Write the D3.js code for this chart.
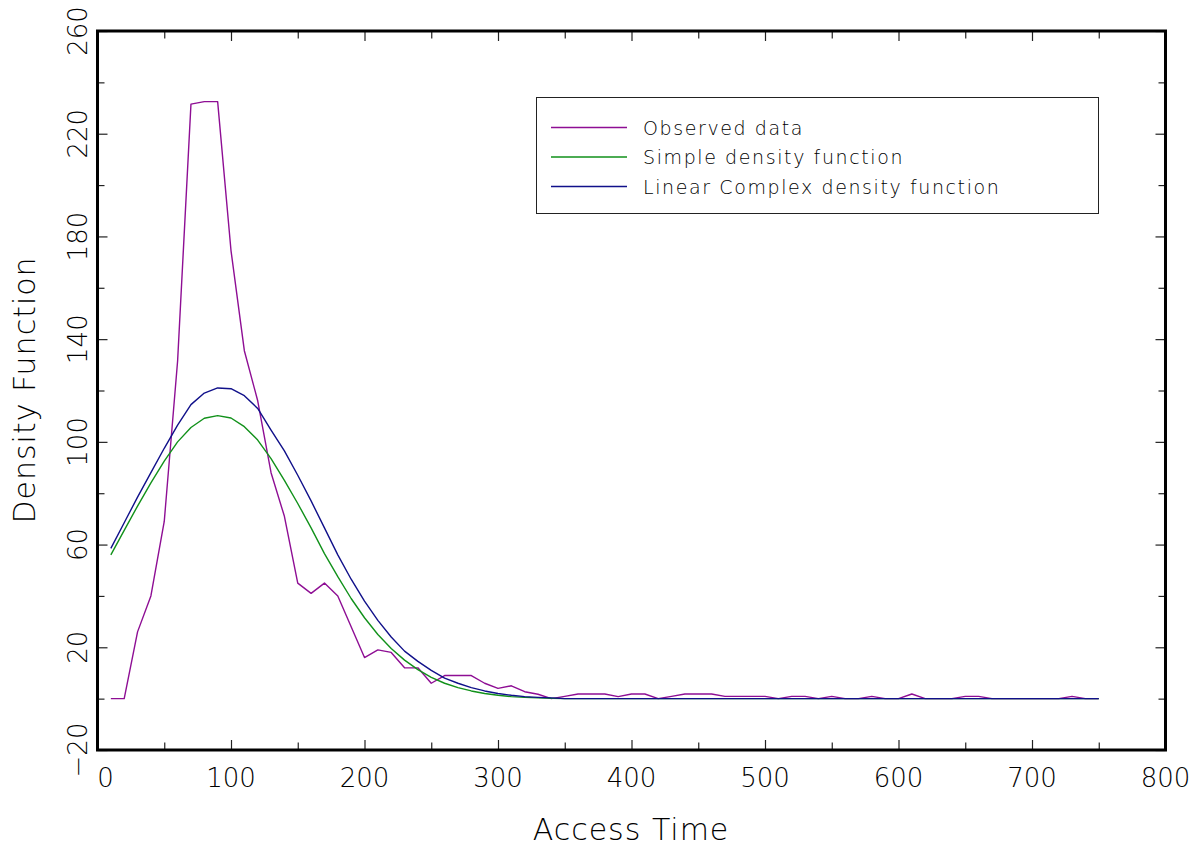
<!DOCTYPE html>
<html>
<head>
<meta charset="utf-8">
<script src="https://cdn.jsdelivr.net/npm/d3@7"></script>
<style>
  body { margin: 0; background: #fff; }
  svg { display: block; }
  text { font-family: "DejaVu Sans", sans-serif; font-weight: 300; fill: #000; }
</style>
</head>
<body>
<svg id="chart" width="1200" height="846"></svg>
<script>
// access time samples, every 10 units
const accessTime = d3.range(10, 751, 10);

const observed = [
  0, 0, 26, 40, 69, 131.5, 231.5, 232.5, 232.5, 174.5,
  135.5, 116, 88, 71, 45, 41, 45, 40, 28, 16,
  19, 18, 12, 12, 6, 9, 9, 9, 6, 4,
  5, 2.7, 1.7, 0, 0.9, 1.8, 1.8, 1.8, 0.8, 1.8,
  1.8, 0, 0.9, 1.8, 1.8, 1.8, 0.9, 0.9, 0.9, 0.9,
  0, 0.9, 0.9, 0, 0.9, 0, 0, 0.9, 0, 0,
  1.8, 0, 0, 0, 0.9, 0.9, 0, 0, 0, 0,
  0, 0, 0.9, 0, 0
];

const simple = [
  56, 65.5, 75, 84, 92.5, 100, 105.6, 109.2, 110.2, 109.3,
  105.9, 100.7, 93.5, 85, 76, 66.5, 56.5, 47.5, 39, 31.5,
  25, 19.5, 15, 11.3, 8.3, 6, 4.3, 3, 2, 1.3,
  0.8, 0.5, 0.3, 0.1, 0, 0, 0, 0, 0, 0,
  0, 0, 0, 0, 0, 0, 0, 0, 0, 0,
  0, 0, 0, 0, 0, 0, 0, 0, 0, 0,
  0, 0, 0, 0, 0, 0, 0, 0, 0, 0,
  0, 0, 0, 0, 0
];

const linearComplex = [
  58.5, 68.5, 78.5, 88, 97.5, 106.5, 114.5, 119, 121, 120.7,
  118, 113, 104.6, 96.5, 87, 77, 66.5, 56, 46.5, 38,
  30.5, 24, 18.5, 14.5, 11, 8, 6, 4.3, 3, 2,
  1.3, 0.8, 0.5, 0.3, 0, 0, 0, 0, 0, 0,
  0, 0, 0, 0, 0, 0, 0, 0, 0, 0,
  0, 0, 0, 0, 0, 0, 0, 0, 0, 0,
  0, 0, 0, 0, 0, 0, 0, 0, 0, 0,
  0, 0, 0, 0, 0
];

const xMajor = [0, 100, 200, 300, 400, 500, 600, 700, 800];
const xMinor = [50, 150, 250, 350, 450, 550, 650, 750];
const yMajor = [-20, 20, 60, 100, 140, 180, 220, 260];
const yMinor = [0, 40, 80, 120, 160, 200, 240];

const legendNames = ["Observed data", "Simple density function", "Linear Complex density function"];
const colors = ["#8e0e94", "#11911a", "#10108a"];

const plotL = 97.5, plotR = 1165.5, plotT = 31, plotB = 750;

const svg = d3.select("#chart");

const x = d3.scaleLinear().domain([0, 800]).range([plotL, plotR]);
const y = d3.scaleLinear().domain([-20, 260]).range([plotB, plotT]);

// inward ticks on all four sides
function tickAxis(axis, tx, ty, size, values) {
  const g = svg.append("g")
    .attr("transform", `translate(${tx},${ty})`)
    .call(axis.tickValues(values).tickSize(-size).tickFormat(""));
  g.select(".domain").remove();
  g.selectAll(".tick line").attr("stroke", "#222").attr("stroke-width", 1.2);
}
tickAxis(d3.axisBottom(x), 0, plotB, 10, xMajor);
tickAxis(d3.axisBottom(x), 0, plotB, 7.5, xMinor);
tickAxis(d3.axisTop(x), 0, plotT, 10, xMajor);
tickAxis(d3.axisTop(x), 0, plotT, 7.5, xMinor);
tickAxis(d3.axisLeft(y), plotL, 0, 10, yMajor);
tickAxis(d3.axisLeft(y), plotL, 0, 7, yMinor);
tickAxis(d3.axisRight(y), plotR, 0, 10, yMajor);
tickAxis(d3.axisRight(y), plotR, 0, 7, yMinor);

// x tick labels
svg.append("g").selectAll("text")
  .data(xMajor)
  .join("text")
  .attr("x", d => x(d) + (d === 0 ? 8 : 0))
  .attr("y", 787)
  .attr("text-anchor", "middle")
  .attr("font-size", 26)
  .text(d => d);

// y tick labels, rotated
svg.append("g").selectAll("text")
  .data(yMajor)
  .join("text")
  .attr("transform", d => `translate(87,${y(d)}) rotate(-90)`)
  .attr("text-anchor", "middle")
  .attr("font-size", 26)
  .text(d => d < 0 ? "\u2212" + Math.abs(d) : d);

// axis titles
svg.append("text")
  .attr("x", 631)
  .attr("y", 840)
  .attr("text-anchor", "middle")
  .attr("font-size", 30)
  .attr("letter-spacing", 1)
  .text("Access Time");

svg.append("text")
  .attr("transform", "translate(35,390) rotate(-90)")
  .attr("text-anchor", "middle")
  .attr("font-size", 30)
  .attr("letter-spacing", 1)
  .text("Density Function");

// curves
const line = d3.line()
  .x((d, i) => x(accessTime[i]))
  .y(d => y(d));

[observed, simple, linearComplex].forEach((vals, k) => {
  svg.append("path")
    .datum(vals)
    .attr("fill", "none")
    .attr("stroke", colors[k])
    .attr("stroke-width", 1.4)
    .attr("stroke-linejoin", "round")
    .attr("d", line);
});

// frame
svg.append("rect")
  .attr("x", plotL)
  .attr("y", plotT)
  .attr("width", plotR - plotL)
  .attr("height", plotB - plotT)
  .attr("fill", "none")
  .attr("stroke", "#000")
  .attr("stroke-width", 3);

// legend
const legend = svg.append("g");
legend.append("rect")
  .attr("x", 536.5)
  .attr("y", 97.5)
  .attr("width", 562)
  .attr("height", 116)
  .attr("fill", "#fff")
  .attr("stroke", "#222")
  .attr("stroke-width", 1);

const rows = legend.selectAll("g.row")
  .data(legendNames)
  .join("g")
  .attr("class", "row")
  .attr("transform", (d, i) => `translate(0,${127.5 + i * 29.5})`);

rows.append("line")
  .attr("x1", 551)
  .attr("x2", 627)
  .attr("stroke", (d, i) => colors[i])
  .attr("stroke-width", 1.3);

rows.append("text")
  .attr("x", 643)
  .attr("y", 7)
  .attr("font-size", 19)
  .attr("letter-spacing", 1.6)
  .text(d => d);
</script>
</body>
</html>
